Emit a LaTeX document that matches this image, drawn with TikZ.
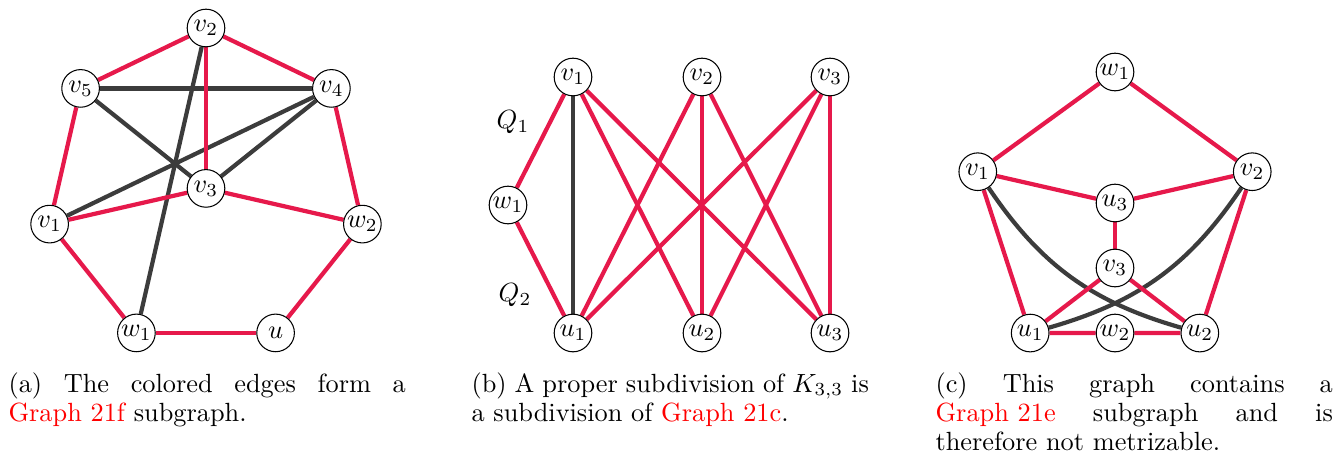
\documentclass[tikz,border=0pt]{standalone}
\usepackage[dvipsnames]{xcolor}
\usepackage{tikz}
\usetikzlibrary{backgrounds}
\usepackage{amsmath, amssymb}
\definecolor{palette_red}{HTML}{E6194B}
\definecolor{palette_dark}{HTML}{3C3C3C}

\tikzset{
  vertex/.style={circle, draw, fill=white, minimum size=14.3pt, inner sep=0pt, font=\normalsize},
  redge/.style={line width=1.6pt, color=palette_red},
  dedge/.style={line width=1.6pt, color=palette_dark},
  subcap/.style={anchor=base west, inner sep=0pt, text width=151pt, align=justify,
    font=\fontsize{10}{11.1}\selectfont}
}

\begin{document}
\begin{tikzpicture}[x=0.38pt, y=0.38pt]
    \useasboundingbox (0,0) rectangle (1336,455);

    % (a) heptagon with v3 in the middle
    \begin{scope}[shift={(206,266.6)}]
        \node[vertex] (av3) at (0,0) {$v_3$};
        \node[vertex] (av2) at (90:160.4) {$v_2$};
        \node[vertex] (av4) at (38.57:160.4) {$v_4$};
        \node[vertex] (aw2) at (-12.86:160.4) {$w_2$};
        \node[vertex] (au) at (-64.29:160.4) {$u$};
        \node[vertex] (aw1) at (-115.71:160.4) {$w_1$};
        \node[vertex] (av1) at (192.86:160.4) {$v_1$};
        \node[vertex] (av5) at (141.43:160.4) {$v_5$};
    \end{scope}
    \begin{scope}[on background layer]
        \draw[dedge] (av5) -- (av4);
        \draw[dedge] (av5) -- (av3);
        \draw[dedge] (av4) -- (av1);
        \draw[dedge] (av4) -- (av3);
        \draw[dedge] (av2) -- (aw1);
        \draw[redge] (av2) -- (av5);
        \draw[redge] (av2) -- (av4);
        \draw[redge] (av2) -- (av3);
        \draw[redge] (av5) -- (av1);
        \draw[redge] (av4) -- (aw2);
        \draw[redge] (av1) -- (av3);
        \draw[redge] (av3) -- (aw2);
        \draw[redge] (av1) -- (aw1);
        \draw[redge] (aw1) -- (au);
        \draw[redge] (au) -- (aw2);
    \end{scope}

    % (b) subdivided K33
    \node[vertex] (bv1) at (573,378) {$v_1$};
    \node[vertex] (bv2) at (702,378) {$v_2$};
    \node[vertex] (bv3) at (830,378) {$v_3$};
    \node[vertex] (bw1) at (508,250) {$w_1$};
    \node[vertex] (bu1) at (573,122) {$u_1$};
    \node[vertex] (bu2) at (702,122) {$u_2$};
    \node[vertex] (bu3) at (830,122) {$u_3$};
    \node[font=\normalsize] (bq1) at (513,333) {$Q_1$};
    \node[font=\normalsize] (bq2) at (515,160) {$Q_2$};
    \begin{scope}[on background layer]
        \draw[dedge] (bv1) -- (bu1);
        \draw[redge] (bv1) -- (bw1);
        \draw[redge] (bw1) -- (bu1);
        \foreach \v in {bv1,bv2,bv3}
            \foreach \u in {bu2,bu3}
                \draw[redge] (\v) -- (\u);
        \draw[redge] (bv2) -- (bu1);
        \draw[redge] (bv3) -- (bu1);
    \end{scope}

    % (c) pentagon
    \begin{scope}[shift={(1115,238.7)}]
        \node[vertex] (cw1) at (90:144.3) {$w_1$};
        \node[vertex] (cv2) at (18:144.3) {$v_2$};
        \node[vertex] (cu2) at (-54:144.3) {$u_2$};
        \node[vertex] (cu1) at (234:144.3) {$u_1$};
        \node[vertex] (cv1) at (162:144.3) {$v_1$};
        \node[vertex] (cu3) at (0,13.3) {$u_3$};
        \node[vertex] (cv3) at (0,-51.7) {$v_3$};
        \node[vertex] (cw2) at (0,-116.7) {$w_2$};
    \end{scope}
    \begin{scope}[on background layer]
        \draw[dedge] (cv1) to[bend right=20] (cu2);
        \draw[dedge] (cv2) to[bend left=20] (cu1);
        \draw[redge] (cw1) -- (cv1);
        \draw[redge] (cw1) -- (cv2);
        \draw[redge] (cv1) -- (cu3);
        \draw[redge] (cv2) -- (cu3);
        \draw[redge] (cu3) -- (cv3);
        \draw[redge] (cv1) -- (cu1);
        \draw[redge] (cv2) -- (cu2);
        \draw[redge] (cv3) -- (cu1);
        \draw[redge] (cv3) -- (cu2);
        \draw[redge] (cu1) -- (cw2);
        \draw[redge] (cw2) -- (cu2);
    \end{scope}

    % captions
    \node[subcap] (capa) at (8,63) {(a) The colored edges form a\linebreak
        \textcolor{red}{\mbox{Graph 21f}} subgraph.};
    \node[subcap] (capb) at (471,63) {(b) A proper subdivision of $K_{3,3}$ is\linebreak
        a subdivision of \textcolor{red}{\mbox{Graph 21c}}.};
    \node[subcap] (capc) at (935,63) {(c) This graph contains a\linebreak
        \textcolor{red}{\mbox{Graph 21e}} subgraph and is\linebreak therefore not metrizable.};
\end{tikzpicture}
\end{document}
